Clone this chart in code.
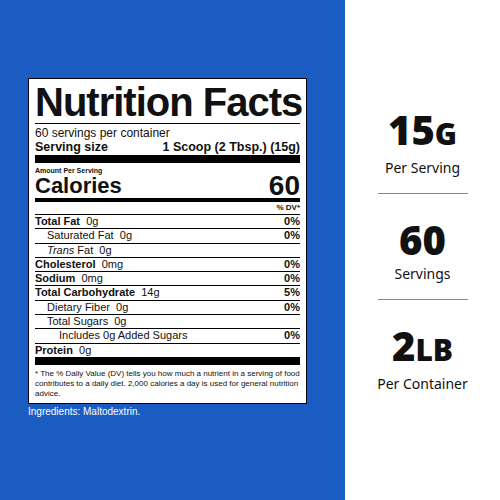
<!DOCTYPE html>
<html><head><meta charset="utf-8">
<script src="https://cdn.jsdelivr.net/npm/chart.js@4"></script>
<style>
body{margin:0;width:500px;height:500px;overflow:hidden;font-family:"Liberation Sans",Arial,sans-serif}
#blue{position:absolute;left:0;top:0;width:345px;height:500px;background:#1b5cc3}
#right{position:absolute;left:345px;top:0;width:155px;height:500px;background:#fff}
#label{position:absolute;left:28px;top:78px;width:265px;background:#fff;border:1px solid #000;padding:3px 6px 4px;font-size:11px;color:#111}
.title{font-weight:900;font-size:40px;letter-spacing:-1px;line-height:40px;border-bottom:1px solid #000;padding-bottom:1px;white-space:nowrap}
.row{display:flex;justify-content:space-between;border-top:1px solid #000;line-height:13.3px}
.thick{border-bottom:8px solid #000}
.mid{border-bottom:4px solid #000}
.ind{padding-left:12px}.ind2{padding-left:24px}
#stats{text-align:center;font-family:"Noto Sans",sans-serif;color:#111}
.big{font-weight:900;font-size:40px;line-height:40px}
.sm{font-size:14px;margin-top:4px}
.hr{width:90px;height:1px;background:#888;margin:16px auto 26px}
</style></head><body>
<div id="blue"></div>
<div id="right"><div id="stats" style="margin-top:110px"></div></div>
<div id="label"></div>
<div style="position:absolute;left:28px;top:406px;color:#fff;font-size:10px;font-family:'Liberation Sans Narrow',sans-serif">Ingredients: Maltodextrin.</div>
<canvas id="c" width="1" height="1" style="display:none"></canvas>
<script>
const nutrients = ["Total Fat","Saturated Fat","Trans Fat","Cholesterol","Sodium","Total Carbohydrate","Dietary Fiber","Total Sugars","Includes 0g Added Sugars","Protein"];
const amounts = ["0g","0g","0g","0mg","0mg","14g","0g","0g","","0g"];
const dv = ["0%","0%","","0%","0%","5%","0%","","0%",""];
const indent = [0,1,1,0,0,0,1,1,2,0];
const bold = [1,0,0,1,1,1,0,0,0,1];
const statValues = ["15<span style='font-size:30px'>G</span>","60","2<span style='font-size:30px'>LB</span>"];
const statLabels = ["Per Serving","Servings","Per Container"];

let h = `<div class="title">Nutrition Facts</div>
<div style="font-size:12px;margin-top:2px">60 servings per container</div>
<div class="thick" style="display:flex;justify-content:space-between;font-weight:bold;font-size:12.5px;padding-bottom:1px"><span>Serving size</span><span>1 Scoop (2 Tbsp.) (15g)</span></div>
<div style="font-weight:bold;font-size:7px;margin-top:4px">Amount Per Serving</div>
<div class="mid" style="display:flex;justify-content:space-between;font-weight:900;font-size:22px;line-height:24px"><span>Calories</span><span style="font-size:28px">60</span></div>
<div style="text-align:right;font-weight:bold;font-size:8px;line-height:12px">% DV*</div>`;
nutrients.forEach((n,i)=>{
  let name = bold[i] ? `<b>${n}</b>` : (n==="Trans Fat" ? "<i>Trans</i> Fat" : n);
  h += `<div class="row ${indent[i]==1?'ind':indent[i]==2?'ind2':''}" ${i==9?'style="border-bottom:8px solid #000"':''}><span>${name}&nbsp; ${amounts[i]}</span><b>${dv[i]}</b></div>`;
});
h += `<div style="font-size:8px;line-height:10px;margin-top:4px">* The % Daily Value (DV) tells you how much a nutrient in a serving of food contributes to a daily diet. 2,000 calories a day is used for general nutrition advice.</div>`;
document.getElementById('label').innerHTML = h;

document.getElementById('stats').innerHTML = statValues.map((v,i)=>
  `<div class="big">${v}</div><div class="sm">${statLabels[i]}</div>` + (i<2?'<div class="hr"></div>':'')).join('');
</script>
</body></html>
